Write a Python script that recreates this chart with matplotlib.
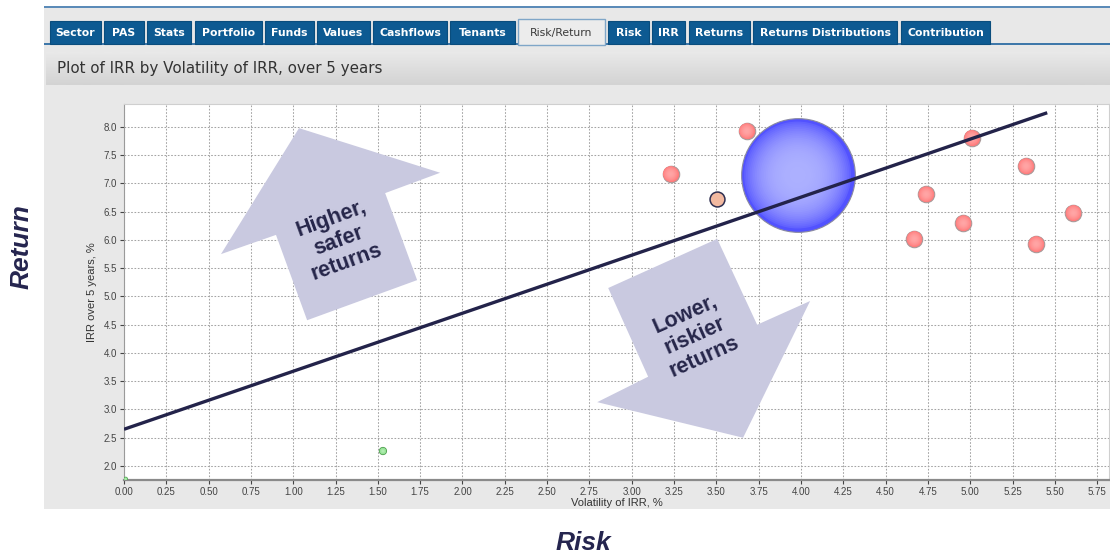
import numpy as np
import matplotlib.pyplot as plt
from matplotlib.patches import Rectangle, Polygon
from matplotlib.colors import to_rgb, LinearSegmentedColormap

# --- data
tab_labels = ["Sector", "PAS", "Stats", "Portfolio", "Funds", "Values", "Cashflows",
              "Tenants", "Risk/Return", "Risk", "IRR", "Returns",
              "Returns Distributions", "Contribution"]
active_tab = "Risk/Return"

fund_vol = [3.23, 3.68, 5.01, 5.33, 4.74, 4.96, 4.67, 5.39, 5.61]
fund_irr = [7.17, 7.93, 7.81, 7.31, 6.81, 6.30, 6.02, 5.93, 6.48]

selected_vol, selected_irr = 3.505, 6.73      # highlighted fund
market_vol, market_irr = 3.98, 7.15           # big bubble
market_size = 6700
bench_vol = [1.53, 0.01]
bench_irr = [2.265, 1.77]
bench_size = [26, 6]

fit_intercept = 2.65
fit_slope = 1.027
fit_x_end = 5.455

x_ticks = np.arange(0, 5.76, 0.25)
y_ticks = np.arange(2.0, 8.01, 0.5)

# block arrows (data coords)
up_arrow = [(1.034, 7.98), (1.868, 7.19), (1.543, 6.83), (1.732, 5.29),
            (1.082, 4.58), (0.898, 6.09), (0.573, 5.75)]
down_arrow = [(2.861, 5.15), (3.505, 6.02), (3.741, 4.50), (4.054, 4.92),
              (3.658, 2.50), (2.796, 3.13), (3.097, 3.58)]

W, H = 1110, 558
fig = plt.figure(figsize=(W / 100, H / 100), dpi=100)
fig.patch.set_facecolor("white")


def fx(px):
    return px / W


def fy(py):
    return 1 - py / H


def frect(x0, y0, x1, y1, **kw):
    r = Rectangle((fx(x0), fy(y1)), (x1 - x0) / W, (y1 - y0) / H,
                  transform=fig.transFigure, **kw)
    fig.add_artist(r)
    return r


# --- application chrome
panel = frect(44, 8, 1110, 509, facecolor="#e8e8e8", edgecolor="none", zorder=0)
frect(44, 6, 1110, 8, facecolor="#5b8bb8", edgecolor="none", zorder=1)
frect(44, 43, 1110, 45, facecolor="#3f78aa", edgecolor="none", zorder=1)

tab_edges = [(50, 101), (104, 144), (147, 191), (195, 262), (265, 314), (317, 370),
             (373, 447), (450, 515), (518, 605), (608, 649), (652, 685), (689, 750),
             (753, 897), (901, 990)]
for lab, (x0, x1) in zip(tab_labels, tab_edges):
    if lab == active_tab:
        frect(x0, 19, x1, 45, facecolor="#ececec", edgecolor="#7fa6c8", lw=1, zorder=2)
        col, wt = "#3a3a3a", "normal"
    else:
        frect(x0, 21, x1, 44, facecolor="#0d5a92", edgecolor="#0a4d7d", lw=0.8, zorder=2)
        col, wt = "white", "bold"
    fig.text(fx((x0 + x1) / 2), fy(33), lab, ha="center", va="center",
             fontsize=7.8, color=col, fontweight=wt, family="DejaVu Sans", zorder=3)

# title bar with a soft gradient
grad = np.linspace(0, 1, 32).reshape(-1, 1)
tb = fig.add_axes([fx(46), fy(85), (1110 - 46) / W, 33 / H], zorder=1)
tb.imshow(grad, aspect="auto", extent=(0, 1, 0, 1),
          cmap=LinearSegmentedColormap.from_list("tb", ["#e9e9e9", "#d3d3d3"]))
tb.axis("off")
fig.text(fx(57), fy(69), "Plot of IRR by Volatility of IRR, over 5 years",
         ha="left", va="center", fontsize=10.9, color="#333333", family="DejaVu Sans")

# --- plot axes
ax = fig.add_axes([fx(124), fy(480), 985 / W, 376 / H], zorder=2)
ax.set_facecolor("white")
ax.set_xlim(0, 5.82)
ax.set_ylim(1.752, 8.407)
ax.set_xticks(x_ticks)
ax.set_yticks(y_ticks)
ax.set_xticklabels([f"{v:.2f}" for v in x_ticks])
ax.set_yticklabels([f"{v:.1f}" for v in y_ticks])
ax.tick_params(labelsize=7, colors="#444444", length=3, width=0.8, pad=2)
for lbl in ax.get_xticklabels() + ax.get_yticklabels():
    lbl.set_family("Liberation Sans")
ax.grid(True, ls=(0, (1.6, 1.6)), color="#a4a4a4", lw=0.75)
ax.set_axisbelow(True)
for side in ["top", "right"]:
    ax.spines[side].set_color("#cfcfcf")
ax.spines["left"].set_color("#9a9a9a")
ax.spines["bottom"].set_color("#8a8a8a")
ax.spines["bottom"].set_linewidth(1.6)

# arrows
arrow_col = "#c9c9e0"
ax.add_patch(Polygon(up_arrow, closed=True, facecolor=arrow_col, edgecolor="none", zorder=2))
ax.add_patch(Polygon(down_arrow, closed=True, facecolor=arrow_col, edgecolor="none", zorder=2))
ax.text(1.27, 5.99, "Higher,\nsafer\nreturns", ha="center", va="center", rotation=20,
        fontsize=15.5, fontweight="bold", color="#26264a", family="Liberation Sans",
        linespacing=1.15, zorder=3, rotation_mode="anchor")
ax.text(3.37, 4.31, "Lower,\nriskier\nreturns", ha="center", va="center", rotation=24,
        fontsize=15.5, fontweight="bold", color="#26264a", family="Liberation Sans",
        linespacing=1.15, zorder=3, rotation_mode="anchor")


def shaded(x, y, s, edge_col, rim, centre, z, n=14, lw=0.8, power=1.6):
    ax.scatter(x, y, s=s, facecolor=rim, edgecolor=edge_col, linewidth=lw, zorder=z)
    r0, c0 = np.array(to_rgb(rim)), np.array(to_rgb(centre))
    for f in np.linspace(0.94, 0.15, n):
        t = 1 - f ** power
        ax.scatter(x, y, s=np.asarray(s) * f ** 2, facecolor=tuple(r0 + (c0 - r0) * t),
                   edgecolor="none", zorder=z + 0.01)


shaded([market_vol], [market_irr], market_size, "#8a8aa0", "#5252ff", "#acb0ff", 4,
       n=26, power=3.0)
shaded(fund_vol, fund_irr, 140, "#a89a9a", "#ff7a7a", "#ffa6a6", 5, power=2.0)
ax.scatter([selected_vol], [selected_irr], s=115, facecolor="#f2b9a0",
           edgecolor="#2e2e50", linewidth=1.1, zorder=6)
shaded(bench_vol, bench_irr, bench_size, "#4d9a4d", "#8fe08f", "#b8f0b8", 5, n=4)

xs = np.array([0, fit_x_end])
ax.plot(xs, fit_intercept + fit_slope * xs, color="#23234a", lw=2.4,
        solid_capstyle="butt", zorder=8)

# axis titles
fig.text(fx(92), fy(292), "IRR over 5 years, %", rotation=90, ha="center", va="center",
         fontsize=8, color="#333333", family="Liberation Sans", zorder=3)
xl = fig.text(fx(617), fy(503), "Volatility of IRR, %", ha="center", va="center",
              fontsize=8, color="#333333", family="Liberation Sans", zorder=3)
xl.set_clip_path(panel)

# slide annotations
fig.text(fx(22), fy(247), "Return", rotation=90, ha="center", va="center",
         fontsize=19, fontweight="bold", fontstyle="italic", color="#25254f",
         family="Liberation Sans")
fig.text(fx(583), fy(543), "Risk", ha="center", va="center",
         fontsize=19, fontweight="bold", fontstyle="italic", color="#25254f",
         family="Liberation Sans")

fig.savefig("out.png", dpi=100)
